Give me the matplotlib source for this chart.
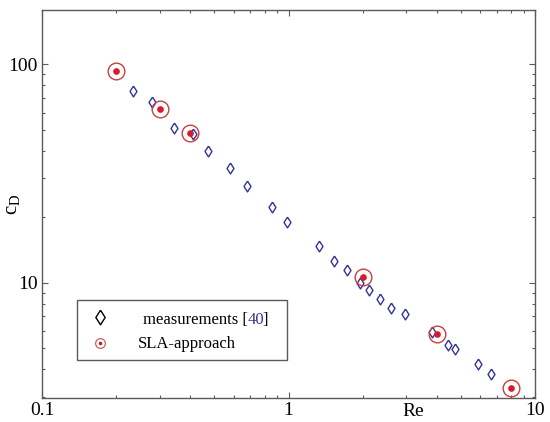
import numpy as np
import matplotlib
matplotlib.use("Agg")
import matplotlib.pyplot as plt
from matplotlib.ticker import LogLocator, FuncFormatter, NullFormatter
from matplotlib.patches import Rectangle

plt.rcParams['font.family'] = ['Liberation Serif', 'DejaVu Serif']
plt.rcParams['mathtext.fontset'] = 'custom'
plt.rcParams['mathtext.rm'] = 'Liberation Serif'
plt.rcParams['mathtext.it'] = 'Liberation Serif:italic'

# measurements [40]
re_meas = [0.233, 0.280, 0.343, 0.409, 0.470, 0.581, 0.677, 0.860, 0.983,
           1.326, 1.534, 1.732, 1.956, 2.115, 2.357, 2.612, 2.977,
           3.832, 4.424, 4.751, 5.888, 6.646]
cd_meas = [75.2, 67.2, 50.8, 47.9, 40.1, 33.4, 27.8, 22.1, 19.0,
           14.7, 12.57, 11.4, 10.0, 9.29, 8.40, 7.64, 7.14,
           5.91, 5.15, 4.98, 4.24, 3.81]

# SLA-approach
re_sla = [0.2, 0.3, 0.4, 2.0, 4.0, 8.0]
cd_sla = [92.6, 62.1, 48.2, 10.6, 5.83, 3.28]

navy = '#33339a'
ring = '#c8403e'
dot = '#d81b2c'
spine = '#5a5a5a'

# thin diamond marker (a bit wider than matplotlib's 'd')
diamond = [(0, 1), (0.64, 0), (0, -1), (-0.64, 0), (0, 1)]

fig = plt.figure(figsize=(5.5, 4.22), dpi=100)
ax = fig.add_axes([0.0764, 0.0569, 0.8963, 0.9194])

ax.plot(re_meas, cd_meas, linestyle='none', marker=diamond, markersize=7.8,
        markerfacecolor='none', markeredgecolor=navy, markeredgewidth=1.0, zorder=3)
ax.plot(re_sla, cd_sla, linestyle='none', marker='o', markersize=12,
        markerfacecolor='none', markeredgecolor=ring, markeredgewidth=1.0, zorder=4)
ax.plot(re_sla, cd_sla, linestyle='none', marker='o', markersize=3.8,
        markerfacecolor=dot, markeredgecolor=dot, zorder=5)

ax.set_xscale('log')
ax.set_yscale('log')
ax.set_xlim(0.1, 10)
ax.set_ylim(2.96, 177)

fmt = FuncFormatter(lambda v, p: '%g' % v)
for a in (ax.xaxis, ax.yaxis):
    a.set_major_locator(LogLocator(base=10))
    a.set_minor_locator(LogLocator(base=10, subs=np.arange(2, 10)))
    a.set_major_formatter(fmt)
    a.set_minor_formatter(NullFormatter())

ax.tick_params(which='both', direction='in', top=True, right=True,
               colors=spine, labelcolor='black', labelsize=14)
ax.tick_params(which='major', length=4, width=0.8)
ax.tick_params(which='minor', length=2.5, width=0.8)
ax.tick_params(axis='x', pad=3)
ax.tick_params(axis='y', pad=3)
for s in ax.spines.values():
    s.set_color(spine)
    s.set_linewidth(1.0)

ax.set_ylabel(r'$\mathrm{c}_\mathrm{D}$', fontsize=15)
ax.yaxis.set_label_coords(-0.041, 0.5)
ax.text(0.752, -0.014, 'Re', transform=ax.transAxes, ha='center', va='top',
        fontsize=14)

# hand-made legend box
ax.add_patch(Rectangle((0.071, 0.098), 0.426, 0.155, transform=ax.transAxes,
                       facecolor='white', edgecolor=spine, linewidth=1.0, zorder=6))
ax.plot([0.1176], [0.2088], transform=ax.transAxes, linestyle='none',
        marker=diamond, markersize=10.5, markerfacecolor='none',
        markeredgecolor='black', markeredgewidth=1.0, zorder=7)
ax.plot([0.1176], [0.1418], transform=ax.transAxes, linestyle='none',
        marker='o', markersize=7, markerfacecolor='none',
        markeredgecolor='#d06060', markeredgewidth=0.9, zorder=7)
ax.plot([0.1176], [0.1418], transform=ax.transAxes, linestyle='none',
        marker='o', markersize=1.6, markerfacecolor='#a03030',
        markeredgecolor='#a03030', zorder=8)

ax.text(0.195, 0.128, 'SLA-approach', transform=ax.transAxes,
        ha='left', va='baseline', fontsize=12, zorder=8)

# "measurements [40]" with the reference number in blue
x0, yb = 0.204, 0.190
inv = ax.transAxes.inverted()
fig.canvas.draw()
r = fig.canvas.get_renderer()


def width_of(s):
    t = ax.text(x0, yb, s, transform=ax.transAxes, fontsize=12)
    bb = t.get_window_extent(renderer=r)
    t.remove()
    return inv.transform((bb.x1, bb.y0))[0] - inv.transform((bb.x0, bb.y0))[0]


w1 = width_of('measurements [')
w2 = width_of('measurements [40')
ax.text(x0, yb, 'measurements [', transform=ax.transAxes, ha='left',
        va='baseline', fontsize=12, zorder=8)
ax.text(x0 + w1 + 0.001, yb, '40', transform=ax.transAxes, ha='left',
        va='baseline', fontsize=12, color=navy, zorder=8)
ax.text(x0 + w2 - 0.003, yb, ']', transform=ax.transAxes, ha='left',
        va='baseline', fontsize=12, zorder=8)

fig.savefig('out.png', dpi=100)
